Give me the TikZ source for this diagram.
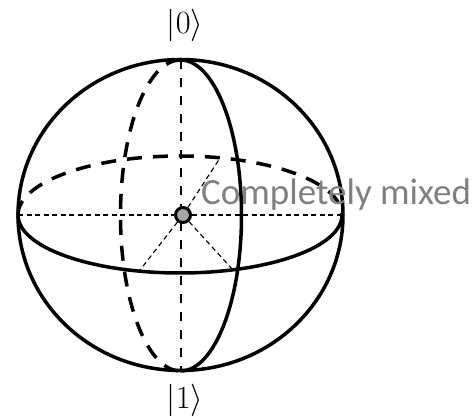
\documentclass[tikz,border=0pt]{standalone}
\usepackage{graphicx}
\usepackage{fontspec}
\setmainfont{Carlito}
\tikzset{
  solidline/.style={line width=3.5pt,black},
  backline/.style={line width=3.5pt,black,dash pattern=on 15pt off 11pt},
  axisline/.style={line width=2pt,black,dash pattern=on 9.5pt off 8.5pt},
  thinline/.style={line width=1.1pt,black,dash pattern=on 5pt off 3.5pt},
  ket/.style={font=\fontsize{24}{28}\selectfont,inner sep=0pt},
  mixedlabel/.style={font=\fontsize{37}{42}\selectfont,text=black!50,inner sep=0pt,anchor=base west},
  centredot/.style={circle,draw=black,fill=black!35,line width=3pt,minimum size=15pt,inner sep=0pt}
}
\begin{document}
\begin{tikzpicture}[x=1pt,y=1pt]
\useasboundingbox (0,0) rectangle (475,417);
\coordinate (T) at (180.5,357);
\coordinate (B) at (180.5,46);
\coordinate (L) at (18,202);
\coordinate (R) at (342,202);
\coordinate (UR) at (220,259);
\coordinate (LL) at (140,147);
\coordinate (LR) at (233,147);
\draw[axisline] (T) -- (B);
\draw[solidline] (180.5,202) ellipse [x radius=162.5, y radius=155.5];
\draw[solidline] (L) arc[start angle=180,end angle=360,x radius=162,y radius=58];
\draw[backline] (L) arc[start angle=180,end angle=0,x radius=162,y radius=59];
\draw[solidline] (T) arc[start angle=90,end angle=-90,x radius=61,y radius=155.5];
\draw[backline] (T) arc[start angle=90,end angle=270,x radius=60,y radius=155.5];
\node[centredot] (C) at (183,202) {};
\draw[thinline] (L) -- (C) -- (R);
\draw[thinline] (C) -- (UR);
\draw[thinline] (C) -- (LL);
\draw[thinline] (C) -- (LR);
\node[ket] (zero) at (185,392) {\scalebox{1.3}{$|0\rangle$}};
\node[ket] (one) at (185,17) {\scalebox{1.3}{$|1\rangle$}};
\node[mixedlabel] (mix) at (201,212) {Completely mixed};
\end{tikzpicture}
\end{document}
